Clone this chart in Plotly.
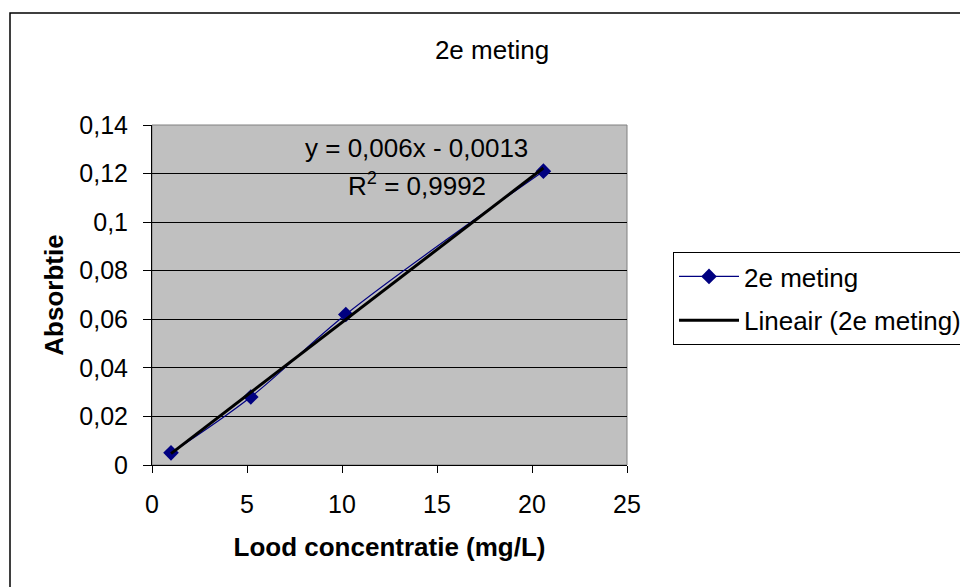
import plotly.graph_objects as go

# ---- data ----
conc = [1.0, 5.2, 10.2, 20.6]          # Lood concentratie (mg/L)
absorb = [0.005, 0.028, 0.062, 0.121]  # Absorbtie
series_name = "2e meting"
trend_name = "Lineair (2e meting)"
trend_slope = 0.006
trend_intercept = -0.0013
r_squared_text = "0,9992"
eq_text = "y = 0,006x - 0,0013"
x_ticks = [0, 5, 10, 15, 20, 25]
y_ticks = [0, 0.02, 0.04, 0.06, 0.08, 0.1, 0.12, 0.14]

trend_x = [min(conc), max(conc)]
trend_y = [trend_slope * v + trend_intercept for v in trend_x]

FONT = "Liberation Sans, Arial, sans-serif"

fig = go.Figure()
fig.add_trace(go.Scatter(
    x=conc, y=absorb, name=series_name, mode="lines+markers",
    line=dict(color="#000080", width=1.2, shape="spline"),
    marker=dict(symbol="diamond", size=12, color="#000080"),
    legendgroup="a",
))
fig.add_trace(go.Scatter(
    x=trend_x, y=trend_y, name=trend_name, mode="lines",
    line=dict(color="black", width=3),
    legendgroup="b",
))

W, H = 960, 587
# plot area in page pixels: x 152..627, y 125..465
L, R, T, B = 152, 627, 125, 465


def px(x):  # page pixel -> paper x
    return (x - L) / (R - L)


def py(y):  # page pixel -> paper y
    return (B - y) / (B - T)


fig.update_layout(
    width=W, height=H,
    margin=dict(l=L, r=W - R, t=T, b=H - B, pad=0, autoexpand=False),
    paper_bgcolor="white",
    plot_bgcolor="#C0C0C0",
    separators=",.",
    font=dict(family=FONT, size=25, color="black"),
    title=dict(text="2e meting", x=px(492), xref="paper", xanchor="center",
               y=1 - 50 / H, yref="container", yanchor="middle",
               font=dict(size=26, family=FONT)),
    showlegend=True,
    legend=dict(
        x=px(673), y=py(252), xanchor="left", yanchor="top",
        bordercolor="black", borderwidth=1, bgcolor="white",
        font=dict(size=26, family=FONT), itemwidth=60,
        tracegroupgap=7, traceorder="grouped",
    ),
    xaxis=dict(
        range=[0, 25], tickvals=x_ticks, showgrid=False, zeroline=False,
        showline=True, linecolor="black", linewidth=1, mirror=False,
        ticks="outside", ticklen=7, tickcolor="black", ticklabelstandoff=10,
        tickfont=dict(size=25),
        title=dict(text="<b>Lood concentratie (mg/L)</b>", font=dict(size=26), standoff=20),
    ),
    yaxis=dict(
        range=[0, 0.14], tickvals=y_ticks, showgrid=True, gridcolor="black", gridwidth=1,
        zeroline=False, showline=True, linecolor="black", linewidth=1,
        ticks="outside", ticklen=8, tickcolor="black", ticklabelstandoff=10,
        tickfont=dict(size=25),
        title=dict(text="<b>Absorbtie</b>", font=dict(size=26), standoff=8),
    ),
    shapes=[
        dict(type="rect", xref="paper", yref="paper", x0=0, x1=1, y0=0, y1=1,
             line=dict(color="#808080", width=1), layer="below"),
        dict(type="rect", xref="paper", yref="paper",
             x0=px(10), x1=px(985), y0=py(610), y1=py(13),
             line=dict(color="black", width=1.5)),
    ],
    annotations=[
        dict(text=eq_text, x=px(416), y=py(148),
             xref="paper", yref="paper", showarrow=False,
             font=dict(size=26, family=FONT), xanchor="center", yanchor="middle"),
        dict(text="R<sup>2</sup> = " + r_squared_text, x=px(417), y=py(184),
             xref="paper", yref="paper", showarrow=False,
             font=dict(size=26, family=FONT), xanchor="center", yanchor="middle"),
    ],
)

fig.write_html("out.html", config={"displayModeBar": False},
               post_script="document.body.style.margin='0';")
